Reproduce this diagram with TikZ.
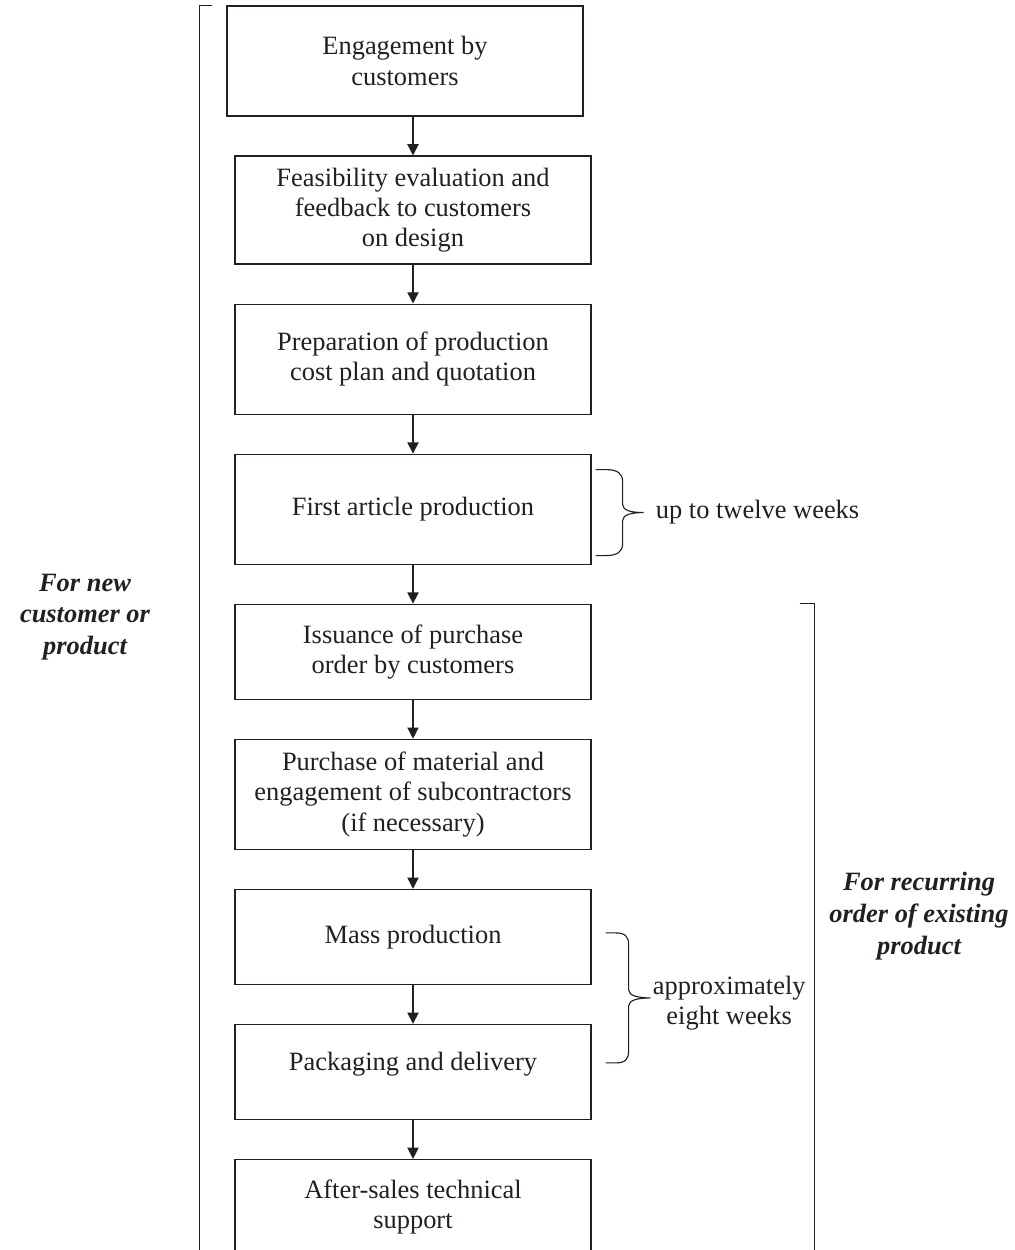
\documentclass[tikz,border=0pt]{standalone}
\usepackage{fontspec}
\setmainfont{Liberation Serif}
\definecolor{ink}{HTML}{231F20}
\usetikzlibrary{arrows.meta,positioning}
\tikzset{
  >={Triangle[length=2.8mm,width=2.8mm]},
  pbox/.style={draw=ink,line width=0.9pt,minimum width=8.9cm,inner sep=2pt,align=center,text=ink,font=\fontsize{18.8}{21.5}\selectfont},
  lab/.style={text=ink,align=center,inner sep=0pt,font=\fontsize{18.8}{21.5}\selectfont},
  blab/.style={lab,font=\fontsize{18.8}{22.5}\selectfont\bfseries\itshape},
  arr/.style={->,draw=ink,line width=0.9pt},
  brk/.style={draw=ink,line width=0.9pt},
  brc/.style={draw=ink,line width=0.8pt},
}
\begin{document}
\begin{tikzpicture}[node distance=0.97cm]
\useasboundingbox (0,0) rectangle (25.375,-31.25);
\node[pbox,minimum height=2.75cm] (eng) at (10.125,-1.525) {Engagement by\\customers};
\node[pbox,minimum height=2.7cm,below=of eng,xshift=0.2cm] (feas) {Feasibility evaluation and\\feedback to customers\\on design};
\node[pbox,minimum height=2.75cm,below=of feas] (cost) {Preparation of production\\cost plan and quotation};
\node[pbox,minimum height=2.75cm,below=of cost] (fap) {First article production};
\node[pbox,minimum height=2.375cm,below=of fap] (po) {Issuance of purchase\\order by customers};
\node[pbox,minimum height=2.75cm,below=of po] (mat) {Purchase of material and\\engagement of subcontractors\\(if necessary)};
\node[pbox,minimum height=2.375cm,below=of mat] (mass) {Mass production};
\node[pbox,minimum height=2.375cm,text depth=0.55cm,below=of mass] (pack) {Packaging and delivery};
\node[pbox,minimum height=2.375cm,below=of pack] (aft) {After-sales technical\\support};
\foreach \u/\v in {eng/feas,feas/cost,cost/fap,fap/po,po/mat,mat/mass,mass/pack,pack/aft} \draw[arr] (\u.south -| \v.north) -- (\v.north);
\draw[brk] ([xshift=-0.35cm]eng.north west) -- ++(-0.325,0) -- ++(0,-31.4);
\draw[brk] ([xshift=5.2cm]po.north east) -- ++(0.375,0) -- ++(0,-16.4);
\node[blab] (newcust) at (2.125,-15.425) {For new\\customer or\\product};
\node[blab] (recur) at (22.975,-22.9) {For recurring\\order of existing\\product};
\draw[brc] ([xshift=1mm,yshift=-4mm]fap.north east) -- ++(0.25,0) .. controls +(0.3,0) and +(0,0.2) .. ++(0.425,-0.3) -- ++(0,-0.575) .. controls +(0,-0.15) and +(-0.3,0) .. ++(0.525,-0.2) coordinate (b1) .. controls +(-0.3,0) and +(0,0.15) .. ++(-0.525,-0.2) -- ++(0,-0.575) .. controls +(0,-0.2) and +(0.3,0) .. ++(-0.425,-0.3) -- ++(-0.25,0);
\node[lab,anchor=west] (twelve) at ([xshift=0.3cm]b1) {up to twelve weeks};
\draw[brc] ([xshift=3.5mm,yshift=1mm]mass.east) -- ++(0.25,0) .. controls +(0.25,0) and +(0,0.2) .. ++(0.325,-0.3) -- ++(0,-1.125) .. controls +(0,-0.15) and +(-0.3,0) .. ++(0.55,-0.2) coordinate (b2) .. controls +(-0.3,0) and +(0,0.15) .. ++(-0.55,-0.2) -- ++(0,-1.125) .. controls +(0,-0.2) and +(0.25,0) .. ++(-0.325,-0.3) -- ++(-0.25,0);
\node[lab,anchor=west] (eight) at ([xshift=0.05cm,yshift=-0.125cm]b2) {approximately\\eight weeks};
\end{tikzpicture}
\end{document}
